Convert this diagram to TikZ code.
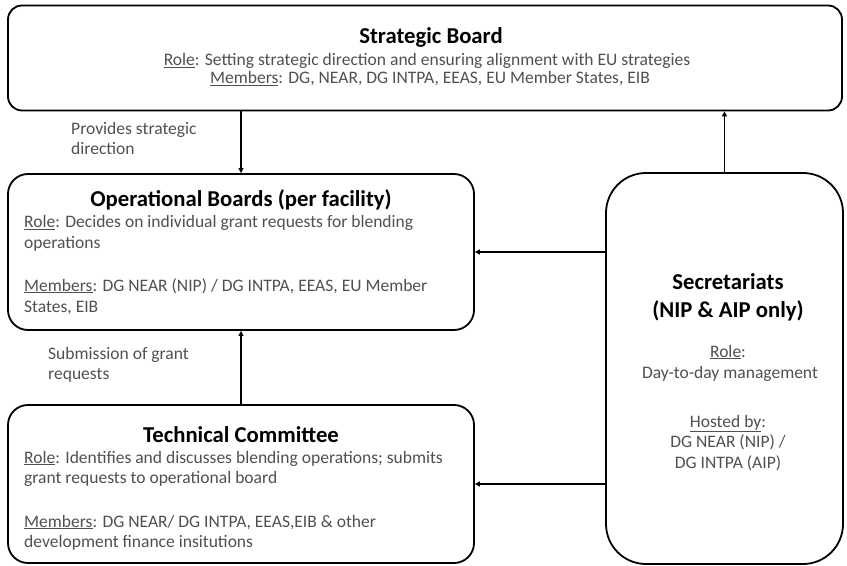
\documentclass[tikz,border=0pt]{standalone}
\usepackage{fontspec}
\setmainfont{Carlito}
\usetikzlibrary{arrows.meta}
\definecolor{bodygray}{HTML}{505050}
\newcommand{\ul}[1]{\underline{#1}}
\tikzset{
  box/.style={draw=black, line width=1.8bp, fill=white, inner sep=0pt},
  arr/.style={draw=black, line width=1.8bp, -{Triangle[length=5bp,width=5bp]}},
  ttl/.style={font=\fontsize{22.8}{24}\bfseries\selectfont, text=black, inner sep=0pt, anchor=base},
  txt/.style={font=\fontsize{17.6}{20}\selectfont, text=bodygray, inner sep=0pt},
  txtl/.style={txt, anchor=base west},
  txtc/.style={txt, anchor=base},
}
\begin{document}
\begin{tikzpicture}[x=1bp,y=-1bp]
\useasboundingbox (0,0) rectangle (847,566);
% boxes
\node[box, rounded corners=14bp, minimum width=834bp, minimum height=105bp] (sb) at (425,58) {};
\node[box, rounded corners=20bp, minimum width=466bp, minimum height=156bp] (ob) at (241,252) {};
\node[box, rounded corners=20bp, minimum width=466bp, minimum height=158bp] (tc) at (241,484) {};
\node[box, rounded corners=40bp, minimum width=237bp, minimum height=391bp] (sec) at (724.5,368.5) {};
% strategic board text
\node[ttl] (sbt) at (431,44) {Strategic Board};
\node[txtc] (sbr) at (427,66) {\ul{Role}: Setting strategic direction and ensuring alignment with EU strategies};
\node[txtc] (sbm) at (430,84) {\ul{Members}: DG, NEAR, DG INTPA, EEAS, EU Member States, EIB};
% operational boards text
\node[ttl] (obt) at (241,207) {Operational Boards (per facility)};
\node[txtl] (obr1) at (24,228) {\ul{Role}: Decides on individual grant requests for blending};
\node[txtl] (obr2) at (24,249) {operations};
\node[txtl] (obm1) at (24,291) {\ul{Members}: DG NEAR (NIP) / DG INTPA, EEAS, EU Member};
\node[txtl] (obm2) at (24,312) {States, EIB};
% technical committee text
\node[ttl] (tct) at (241,442) {Technical Committee};
\node[txtl] (tcr1) at (24,463) {\ul{Role}: Identifies and discusses blending operations; submits};
\node[txtl] (tcr2) at (24,483) {grant requests to operational board};
\node[txtl] (tcm1) at (24,527) {\ul{Members}: DG NEAR/ DG INTPA, EEAS,EIB \& other};
\node[txtl] (tcm2) at (24,547) {development finance insitutions};
% secretariats text
\node[ttl] (st1) at (728,289) {Secretariats};
\node[ttl] (st2) at (728,317) {(NIP \& AIP only)};
\node[txtc] (sr1) at (728,357) {\ul{Role}:};
\node[txtc] (sr2) at (730,378) {Day-to-day management};
\node[txtc] (sh1) at (728,427) {\ul{Hosted by}:};
\node[txtc] (sh2) at (728,447) {DG NEAR (NIP) /};
\node[txtc] (sh3) at (728,468) {DG INTPA (AIP)};
% connector labels
\node[txtl] (l1a) at (71,135) {Provides strategic};
\node[txtl] (l1b) at (71,155) {direction};
\node[txtl] (l2a) at (48,359) {Submission of grant};
\node[txtl] (l2b) at (48,379) {requests};
% connectors
\draw[arr] (sb.south -| ob.north) -- (ob.north);
\draw[arr] (tc.north) -- (ob.south);
\draw[arr] (sec.north) -- (sec.north |- sb.south);
\draw[arr] (sec.west |- ob.east) -- (ob.east);
\draw[arr] (sec.west |- tc.east) -- (tc.east);
\end{tikzpicture}
\end{document}
